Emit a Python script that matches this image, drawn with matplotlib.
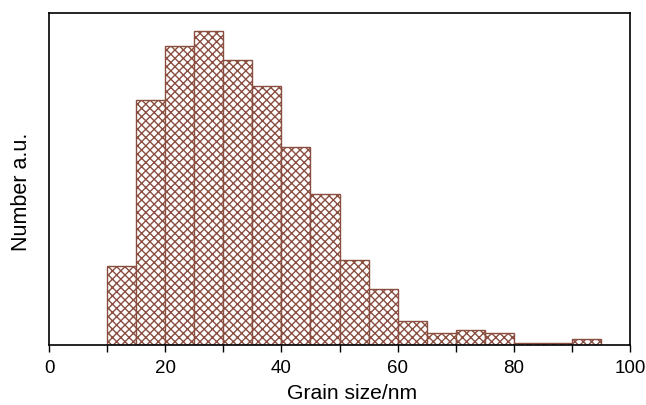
import numpy as np
import matplotlib.pyplot as plt

plt.rcParams['font.family'] = ['Liberation Sans', 'DejaVu Sans']
plt.rcParams['hatch.linewidth'] = 1.0
plt.rcParams['hatch.color'] = '#8a4e40'

# bin edges (nm) and relative counts
bin_left = np.arange(10, 95, 5)
counts = [79, 245, 299, 314, 285, 259, 198, 151, 85, 56, 24, 12, 15, 12, 2, 2, 6]
bin_width = 5
xticks = np.arange(0, 101, 20)
minor_ticks = np.arange(10, 100, 20)

fig = plt.figure(figsize=(6.46, 4.05), dpi=100)
ax = fig.add_axes([0.0759, 0.148, 0.8994, 0.820])

ax.bar(bin_left, counts, width=bin_width, align='edge', color='white',
       edgecolor='#8a4e40', linewidth=1.0, hatch='xxxx')

ax.set_xlim(0, 100)
ax.set_ylim(0, 332)
ax.set_xticks(xticks)
ax.set_xticks(minor_ticks, minor=True)
ax.set_yticks([])
ax.tick_params(axis='x', which='both', direction='out', length=5, width=1,
               labelsize=13.5, pad=6)

# labels sit a little off-centre in the original
ax.set_xlabel("Grain size/nm", fontsize=15.2, va='baseline')
ax.xaxis.set_label_coords(0.5215, -0.163)
ax.set_ylabel("Number a.u.", fontsize=15.5, va='center')
ax.yaxis.set_label_coords(-0.048, 0.461)

for s in ax.spines.values():
    s.set_linewidth(1.2)

fig.savefig("out.png", dpi=100)
